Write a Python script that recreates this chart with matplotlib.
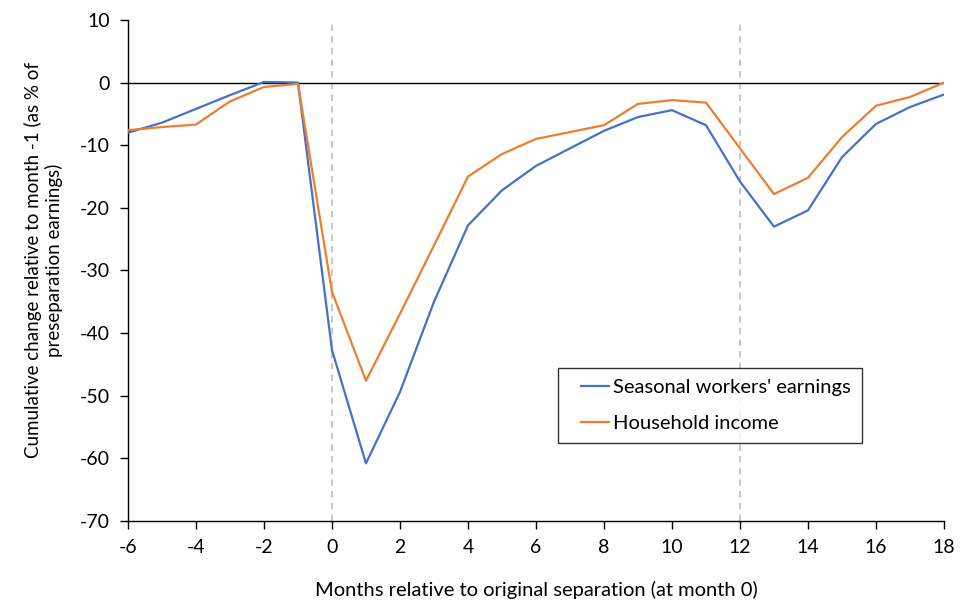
import matplotlib
matplotlib.use('Agg')
import matplotlib.pyplot as plt
from matplotlib.lines import Line2D
from matplotlib.legend_handler import HandlerLine2D

months = list(range(-6, 19))
workers_earnings = [-8.0, -6.4, -4.2, -2.0, 0.1, 0.0, -42.7, -60.8, -49.4, -35.0, -22.8, -17.2,
                    -13.3, -10.5, -7.7, -5.5, -4.4, -6.8, -15.8, -23.0, -20.4, -11.9, -6.6, -3.9, -1.9]
household_income = [-7.6, -7.1, -6.7, -3.0, -0.7, -0.2, -33.4, -47.6, -36.9, -26.0, -15.0, -11.4,
                    -9.0, -7.9, -6.8, -3.4, -2.8, -3.2, -10.5, -17.8, -15.2, -8.7, -3.7, -2.3, 0.0]
series_names = ["Seasonal workers' earnings", "Household income"]
event_months = [0, 12]
x_ticks = list(range(-6, 19, 2))
y_ticks = list(range(-70, 11, 10))

plt.rcParams['font.family'] = ['Lato', 'DejaVu Sans']
plt.rcParams['axes.unicode_minus'] = False

fig = plt.figure(figsize=(9.68, 6), dpi=100)
ax = fig.add_axes([0.1322, 0.1317, 0.843, 0.835])

for m in event_months:
    ax.axvline(m, color='#bfbfbf', linestyle=(0, (4, 3)), linewidth=1.2, zorder=1)
ax.axhline(0, color='black', linewidth=1.0, zorder=2)

ax.plot(months, workers_earnings, color='#4472C4', linewidth=1.6, label=series_names[0], zorder=3)
ax.plot(months, household_income, color='#ED7D31', linewidth=1.6, label=series_names[1], zorder=3)

ax.set_xlim(-6, 18)
ax.set_ylim(-70, 10)
ax.set_xticks(x_ticks)
ax.set_yticks(y_ticks)
ax.tick_params(axis='both', labelsize=14, length=6, width=1, direction='out', pad=7)

for side in ['top', 'right']:
    ax.spines[side].set_visible(False)
for side in ['left', 'bottom']:
    ax.spines[side].set_color('black')
    ax.spines[side].set_linewidth(1)

ax.set_xlabel('Months relative to original separation (at month 0)', fontsize=14.5, labelpad=18)
ax.set_ylabel('Cumulative change relative to month -1 (as % of\npreseparation earnings)',
              fontsize=13.5)
ax.yaxis.set_label_coords(-0.08, 0.52)

# shift the legend lines right inside their handle box
leg = ax.legend(loc='upper left', bbox_to_anchor=(0.527, 0.305), fontsize=14.5,
                frameon=True, fancybox=False, handlelength=2.0, handletextpad=0.2,
                borderpad=0.55, labelspacing=0.9, borderaxespad=0,
                handler_map={Line2D: HandlerLine2D(xpad=0.6)})
leg.get_frame().set_edgecolor('black')
leg.get_frame().set_linewidth(1)

fig.savefig('out.png', dpi=100)
